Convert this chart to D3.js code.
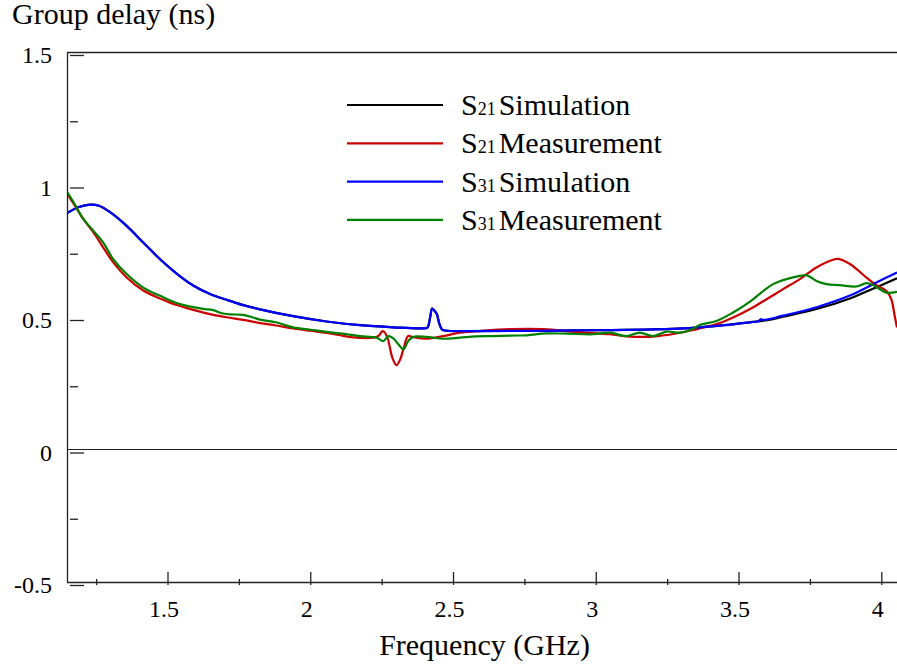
<html>
<head>
<script src="https://cdn.jsdelivr.net/npm/d3@7"></script>
</head>
<body style="margin:0">
<script>
// S21 simulation (black)
let s21SimFreq = [1.148,1.19,1.229,1.26,1.299,1.357,1.415,1.474,1.532,1.59,1.649,1.707,1.765,1.824,1.94,2.057,2.174,2.291,2.39,2.41,2.42,2.427,2.435,2.443,2.452,2.462,2.48,2.55,2.8,3.0,3.2,3.364,3.45,3.539,3.6,3.656,3.773,3.89,3.971,4.055]
let s21SimVal  = [0.892,0.915,0.924,0.92,0.896,0.844,0.781,0.718,0.664,0.619,0.587,0.565,0.545,0.529,0.503,0.483,0.469,0.461,0.457,0.46,0.5,0.532,0.524,0.512,0.475,0.452,0.448,0.447,0.448,0.45,0.453,0.461,0.469,0.48,0.488,0.501,0.530,0.570,0.607,0.646]

// S21 measurement (red)
let s21MeasFreq = [1.148,1.17,1.205,1.24,1.275,1.31,1.357,1.415,1.474,1.532,1.59,1.649,1.707,1.765,1.824,1.88,1.94,2.0,2.057,2.1,2.15,2.22,2.24,2.253,2.262,2.272,2.288,2.302,2.315,2.326,2.343,2.36,2.407,2.466,2.524,2.6,2.7,2.816,2.933,3.049,3.108,3.2,3.283,3.341,3.364,3.423,3.481,3.539,3.598,3.656,3.715,3.773,3.831,3.848,3.89,3.948,3.983,4.018,4.035,4.047,4.055]
let s21MeasVal  = [0.965,0.93,0.87,0.82,0.762,0.706,0.649,0.600,0.570,0.545,0.527,0.511,0.499,0.489,0.477,0.468,0.457,0.448,0.440,0.432,0.423,0.422,0.43,0.447,0.44,0.416,0.345,0.318,0.34,0.378,0.428,0.424,0.418,0.428,0.441,0.448,0.454,0.454,0.443,0.435,0.427,0.426,0.438,0.451,0.457,0.473,0.498,0.529,0.567,0.605,0.643,0.687,0.716,0.719,0.70,0.649,0.620,0.598,0.567,0.504,0.46]

// S31 simulation (blue)
let s31SimFreq = [1.148,1.19,1.229,1.26,1.299,1.357,1.415,1.474,1.532,1.59,1.649,1.707,1.765,1.824,1.94,2.057,2.174,2.291,2.39,2.41,2.42,2.427,2.435,2.443,2.452,2.462,2.48,2.55,2.8,3.0,3.2,3.364,3.45,3.539,3.57,3.578,3.585,3.656,3.773,3.89,3.971,4.055]
let s31SimVal  = [0.892,0.915,0.924,0.92,0.896,0.844,0.781,0.718,0.664,0.619,0.587,0.565,0.545,0.529,0.503,0.483,0.469,0.461,0.457,0.46,0.5,0.532,0.524,0.512,0.475,0.452,0.448,0.447,0.448,0.45,0.453,0.461,0.469,0.48,0.484,0.492,0.489,0.505,0.537,0.581,0.624,0.668]

// S31 measurement (green)
let s31MeasFreq = [1.148,1.17,1.205,1.24,1.275,1.31,1.357,1.415,1.474,1.532,1.59,1.63,1.66,1.69,1.72,1.765,1.8,1.824,1.88,1.94,2.0,2.057,2.12,2.174,2.232,2.256,2.273,2.29,2.31,2.326,2.343,2.36,2.407,2.466,2.524,2.58,2.641,2.7,2.758,2.827,2.9,2.991,3.049,3.108,3.154,3.201,3.248,3.294,3.341,3.364,3.423,3.481,3.539,3.586,3.621,3.668,3.715,3.738,3.773,3.808,3.855,3.913,3.948,3.973,3.995,4.018,4.055]
let s31MeasVal  = [0.972,0.935,0.87,0.826,0.781,0.718,0.662,0.611,0.580,0.553,0.537,0.53,0.526,0.514,0.51,0.508,0.498,0.490,0.48,0.461,0.452,0.444,0.436,0.428,0.422,0.409,0.428,0.42,0.395,0.378,0.409,0.425,0.425,0.418,0.422,0.427,0.428,0.43,0.431,0.438,0.437,0.435,0.441,0.428,0.441,0.428,0.445,0.441,0.456,0.470,0.485,0.517,0.557,0.598,0.624,0.643,0.655,0.658,0.636,0.624,0.620,0.615,0.628,0.62,0.605,0.592,0.595]

let majorX = [1.5,2,2.5,3,3.5,4]
let minorX = [1.25,1.75,2.25,2.75,3.25,3.75]
let majorY = [-0.5,0,0.5,1,1.5]
let minorY = [-0.25,0.25,0.75,1.25]

let w = 897
let h = 670
let serif = "Liberation Serif"

let svg = d3.select("body").append("svg")
    .attr("width", w)
    .attr("height", h)

let x = d3.scaleLinear().domain([1.148, 4.055]).range([67, 897])
let y = d3.scaleLinear().domain([-0.5, 1.5]).range([582, 52])

// frame
svg.append("line").attr("x1",67.5).attr("x2",67.5).attr("y1",52).attr("y2",582.5)
    .attr("stroke","#222").attr("stroke-width",1.3)
svg.append("line").attr("x1",67).attr("x2",w).attr("y1",52.5).attr("y2",52.5)
    .attr("stroke","#222").attr("stroke-width",1.3)
svg.append("line").attr("x1",67).attr("x2",w).attr("y1",582.5).attr("y2",582.5)
    .attr("stroke","#222").attr("stroke-width",1.3)
// zero line
svg.append("line").attr("x1",67).attr("x2",w).attr("y1",y(0)).attr("y2",y(0))
    .attr("stroke","#222").attr("stroke-width",1.2)

// y ticks (drawn inside, a few px below their values like the original)
let yAxis = svg.append("g")
    .attr("transform","translate(70,3)")
    .call(d3.axisLeft(y).tickValues(majorY).tickSize(-14).tickPadding(18).tickFormat(d => String(d)))
yAxis.select(".domain").remove()
let yMinor = svg.append("g")
    .attr("transform","translate(70,3)")
    .call(d3.axisLeft(y).tickValues(minorY).tickSize(-8).tickFormat(""))
yMinor.select(".domain").remove()

// x ticks
let xAxis = svg.append("g")
    .attr("transform","translate(0,572)")
    .call(d3.axisBottom(x).tickValues(majorX).tickSize(13).tickPadding(14.5).tickFormat(d => String(d)))
xAxis.select(".domain").remove()
xAxis.selectAll("text").attr("dx", -4)
let xMinor = svg.append("g")
    .attr("transform","translate(0,579)")
    .call(d3.axisBottom(x).tickValues(minorX).tickSize(6).tickFormat(""))
xMinor.select(".domain").remove()

svg.selectAll(".tick line").attr("stroke","#222").attr("stroke-width",1.3)
svg.selectAll(".tick text")
    .attr("fill","#000")
    .attr("font-family", serif)
    .attr("font-size", 24)

// titles
svg.append("text").attr("x",12).attr("y",24)
    .attr("font-family", serif).attr("font-size",30).text("Group delay (ns)")
svg.append("text").attr("x",484.5).attr("y",655).attr("text-anchor","middle")
    .attr("font-family", serif).attr("font-size",30).text("Frequency (GHz)")

// curves
let series = [
    {sub:"21", name:"Simulation", color:"#000000", f:s21SimFreq, v:s21SimVal},
    {sub:"21", name:"Measurement", color:"#cc0000", f:s21MeasFreq, v:s21MeasVal},
    {sub:"31", name:"Simulation", color:"#0000ff", f:s31SimFreq, v:s31SimVal},
    {sub:"31", name:"Measurement", color:"#008000", f:s31MeasFreq, v:s31MeasVal}
]

let line = d3.line()
    .x(d => x(d[0]))
    .y(d => y(d[1]))
    .curve(d3.curveCatmullRom.alpha(0.5))

svg.append("clipPath").attr("id","plotclip")
    .append("rect").attr("x",68).attr("y",53).attr("width",w-68).attr("height",529)

series.forEach(s => {
    let pts = s.f.map((f,i) => [f, s.v[i]])
    svg.append("path")
        .attr("d", line(pts))
        .attr("fill","none")
        .attr("stroke", s.color)
        .attr("stroke-width", 2.2)
        .attr("clip-path","url(#plotclip)")
})

// legend
series.forEach((s, i) => {
    let ly = 105 + i*38.3
    svg.append("line")
        .attr("x1",347).attr("x2",443).attr("y1",ly).attr("y2",ly)
        .attr("stroke", s.color).attr("stroke-width",2.2)
    let t = svg.append("text").attr("x",461).attr("y",ly+10)
        .attr("font-family", serif).attr("font-size",30)
    t.append("tspan").text("S")
    t.append("tspan").attr("font-size",18).text(s.sub)
    t.append("tspan").attr("dx",3).text(s.name)
})
</script>
</body>
</html>
